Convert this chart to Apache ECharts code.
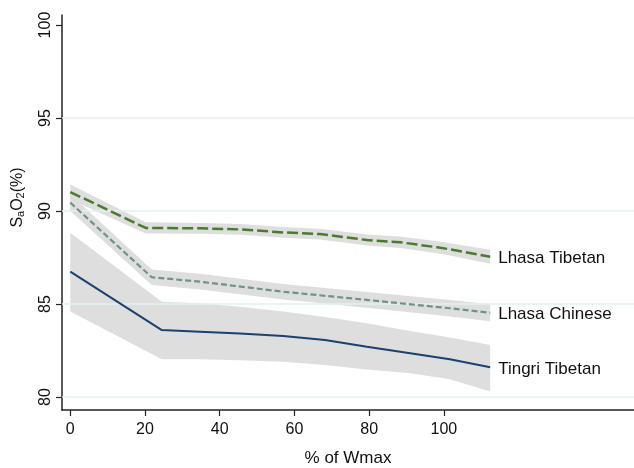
<!DOCTYPE html>
<html>
<head>
<meta charset="utf-8">
<script src="https://cdn.jsdelivr.net/npm/echarts@6/dist/echarts.min.js"></script>
<style>html,body{margin:0;padding:0;background:#fff}#c{width:634px;height:468px}</style>
</head>
<body>
<div id="c"></div>
<script>
const xTicks = [0, 20, 40, 60, 80, 100];
const yTicks = [80, 85, 90, 95, 100];
const gridValues = [80, 85, 90, 95];

const tibetName = 'Lhasa Tibetan';
const tibetX  = [0, 20.2, 34.8, 45.4, 57, 66.8, 79.4, 88.3, 98.2, 101.6, 112.4];
const tibetY  = [91.02, 89.09, 89.07, 89.01, 88.85, 88.76, 88.44, 88.32, 88.05, 87.94, 87.54];
const tibetLo = [90.62, 88.79, 88.78, 88.72, 88.56, 88.47, 88.14, 88.01, 87.73, 87.61, 87.16];
const tibetHi = [91.42, 89.39, 89.36, 89.30, 89.14, 89.05, 88.74, 88.63, 88.37, 88.27, 87.92];

const chineseName = 'Lhasa Chinese';
const chineseX  = [0, 21.8, 34.7, 57, 79.4, 101.6, 112.4];
const chineseY  = [90.45, 86.44, 86.20, 85.66, 85.22, 84.77, 84.53];
const chineseLo = [90.00, 86.02, 85.78, 85.24, 84.80, 84.33, 84.07];
const chineseHi = [90.90, 86.86, 86.62, 86.08, 85.64, 85.21, 84.99];

const tingriName = 'Tingri Tibetan';
const tingriX  = [0, 24.5, 34.7, 45.4, 57, 68.2, 79.4, 91, 101.6, 112.4];
const tingriY  = [86.74, 83.60, 83.51, 83.42, 83.28, 83.06, 82.70, 82.35, 82.03, 81.60];
const tingriLo = [84.59, 82.03, 82.03, 81.98, 81.90, 81.72, 81.48, 81.28, 80.95, 80.29];
const tingriHi = [88.83, 85.12, 85.04, 84.85, 84.59, 84.30, 83.96, 83.55, 83.20, 82.80];

const FONT = '"Liberation Sans", Arial, sans-serif';
const BAND = '#dedede';

function band(xs, lo, hi) {
  return {
    type: 'custom', silent: true, z: 2, clip: true,
    data: xs.map((x, i) => [x, lo[i], hi[i]]),
    encode: { x: 0, y: [1, 2] },
    renderItem(params, api) {
      if (params.dataIndex !== 0) return null;
      const pts = [];
      for (let i = 0; i < xs.length; i++) pts.push(api.coord([xs[i], hi[i]]));
      for (let i = xs.length - 1; i >= 0; i--) pts.push(api.coord([xs[i], lo[i]]));
      return { type: 'polygon', shape: { points: pts }, style: { fill: BAND } };
    }
  };
}

function line(name, xs, ys, color, width, dash) {
  return {
    type: 'line', name, z: 5, symbol: 'none', silent: true,
    data: xs.map((x, i) => [x, ys[i]]),
    lineStyle: { color, width, type: dash },
    endLabel: { show: true, formatter: name, color: '#111', fontSize: 17, fontFamily: FONT, distance: 8, offset: [0, 2] }
  };
}

const chart = echarts.init(document.getElementById('c'), null, { renderer: 'canvas' });
chart.setOption({
  animation: false,
  backgroundColor: '#fff',
  grid: { left: 62, right: 0, top: 15, bottom: 58, containLabel: false, outerBoundsMode: 'none' },
  xAxis: {
    type: 'value', min: -2.22, max: 150.9,
    name: '% of Wmax', nameLocation: 'middle', nameGap: 40,
    nameTextStyle: { fontSize: 17, color: '#111', fontFamily: FONT },
    axisLine: { show: true, onZero: false, lineStyle: { color: '#222', width: 1.5 } },
    axisTick: { show: true, length: 6, lineStyle: { color: '#222', width: 1.2 }, customValues: xTicks },
    axisLabel: { color: '#111', fontSize: 16, fontFamily: FONT, margin: 12, customValues: xTicks },
    splitLine: { show: false }
  },
  yAxis: {
    type: 'value', min: 79.3, max: 100.54,
    name: '{n|S}{s|a}{n|O}{s|2}{n|(%)}', nameLocation: 'middle', nameGap: 36, nameRotate: 90,
    nameTextStyle: {
      padding: [0, 0, 0, 30],
      rich: {
        n: { fontSize: 16, color: '#111', fontFamily: FONT },
        s: { fontSize: 11, color: '#111', fontFamily: FONT, verticalAlign: 'bottom', padding: [6, 0, 0, 0] }
      }
    },
    axisLine: { show: true, onZero: false, lineStyle: { color: '#222', width: 1.5 } },
    axisTick: { show: true, length: 6, lineStyle: { color: '#222', width: 1.2 }, customValues: yTicks },
    axisLabel: { color: '#111', fontSize: 16, fontFamily: FONT, margin: 8, rotate: 90, customValues: yTicks },
    splitLine: { show: false }
  },
  series: [
    {
      type: 'line', data: [], z: 1, silent: true,
      markLine: {
        silent: true, symbol: 'none', label: { show: false },
        lineStyle: { color: '#e3eff2', width: 1.5, type: 'solid' },
        data: gridValues.map(v => ({ yAxis: v }))
      }
    },
    band(tingriX, tingriLo, tingriHi),
    band(chineseX, chineseLo, chineseHi),
    band(tibetX, tibetLo, tibetHi),
    line(tingriName, tingriX, tingriY, '#1b4170', 2, 'solid'),
    line(chineseName, chineseX, chineseY, '#6e9389', 2.2, [6, 3]),
    line(tibetName, tibetX, tibetY, '#4b7a2e', 2.5, [11, 4])
  ]
});
</script>
</body>
</html>
